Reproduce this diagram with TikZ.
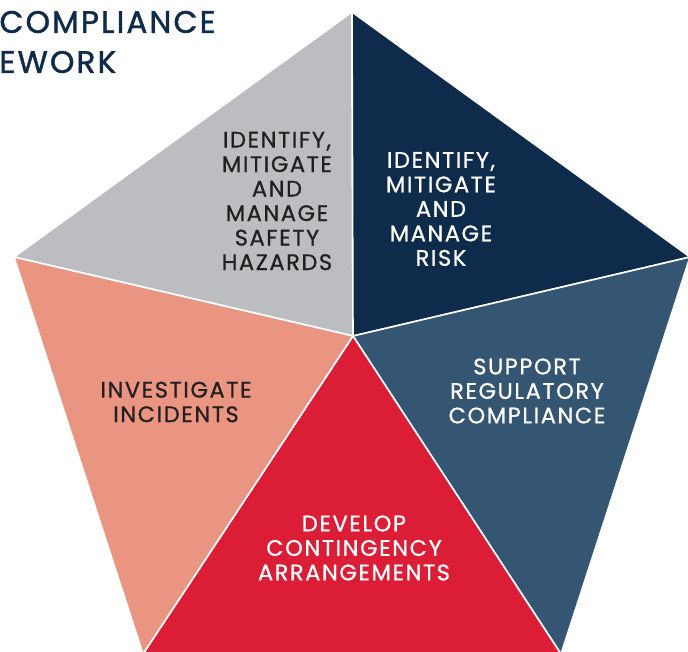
\documentclass[tikz,border=0pt]{standalone}
\usepackage{fontspec}
\setmainfont{Poppins}
\newfontfamily\areafont[LetterSpace=7, FakeBold=0.8]{Poppins}
\newfontfamily\titlefont[LetterSpace=7, FakeBold=1.4]{Poppins}
\definecolor{hazardgray}{HTML}{BCBDC0}
\definecolor{risknavy}{HTML}{0F2B4B}
\definecolor{regblue}{HTML}{355673}
\definecolor{contred}{HTML}{DB1E35}
\definecolor{incsalmon}{HTML}{EA9582}
\definecolor{darktext}{HTML}{231F20}
\tikzset{
  areatext/.style={align=center, font=\areafont\fontsize{22.5}{24.5}\selectfont},
  wedge/.style={draw=white, line width=1.6pt, line join=round}
}
\begin{document}
\begin{tikzpicture}[x=1pt,y=-1pt]
\useasboundingbox (0,0) rectangle (688,652);
\coordinate (top) at (352,12);
\coordinate (right) at (690,257);
\coordinate (botright) at (561,654);
\coordinate (botleft) at (143,654);
\coordinate (left) at (14,257);
\coordinate (hub) at (353,336);
\filldraw[wedge, fill=hazardgray] (top)--(hub)--(left)--cycle;
\filldraw[wedge, fill=risknavy] (top)--(right)--(hub)--cycle;
\filldraw[wedge, fill=regblue] (right)--(botright)--(hub)--cycle;
\filldraw[wedge, fill=contred] (botright)--(botleft)--(hub)--cycle;
\filldraw[wedge, fill=incsalmon] (botleft)--(left)--(hub)--cycle;
\node[anchor=west, align=left, text=risknavy, font=\titlefont\fontsize{31}{40}\selectfont] (title) at (-4,42) {COMPLIANCE\\EWORK};
\node[areatext, text=darktext] (hazards) at (277,201) {IDENTIFY,\\MITIGATE\\AND\\MANAGE\\SAFETY\\HAZARDS};
\node[areatext, text=white] (risk) at (441,209) {IDENTIFY,\\MITIGATE\\AND\\MANAGE\\RISK};
\node[areatext, text=darktext] (incidents) at (176,402) {INVESTIGATE\\INCIDENTS};
\node[areatext, text=white] (regulatory) at (527,391) {SUPPORT\\REGULATORY\\COMPLIANCE};
\node[areatext, text=white] (contingency) at (354,548) {DEVELOP\\CONTINGENCY\\ARRANGEMENTS};
\end{tikzpicture}
\end{document}
